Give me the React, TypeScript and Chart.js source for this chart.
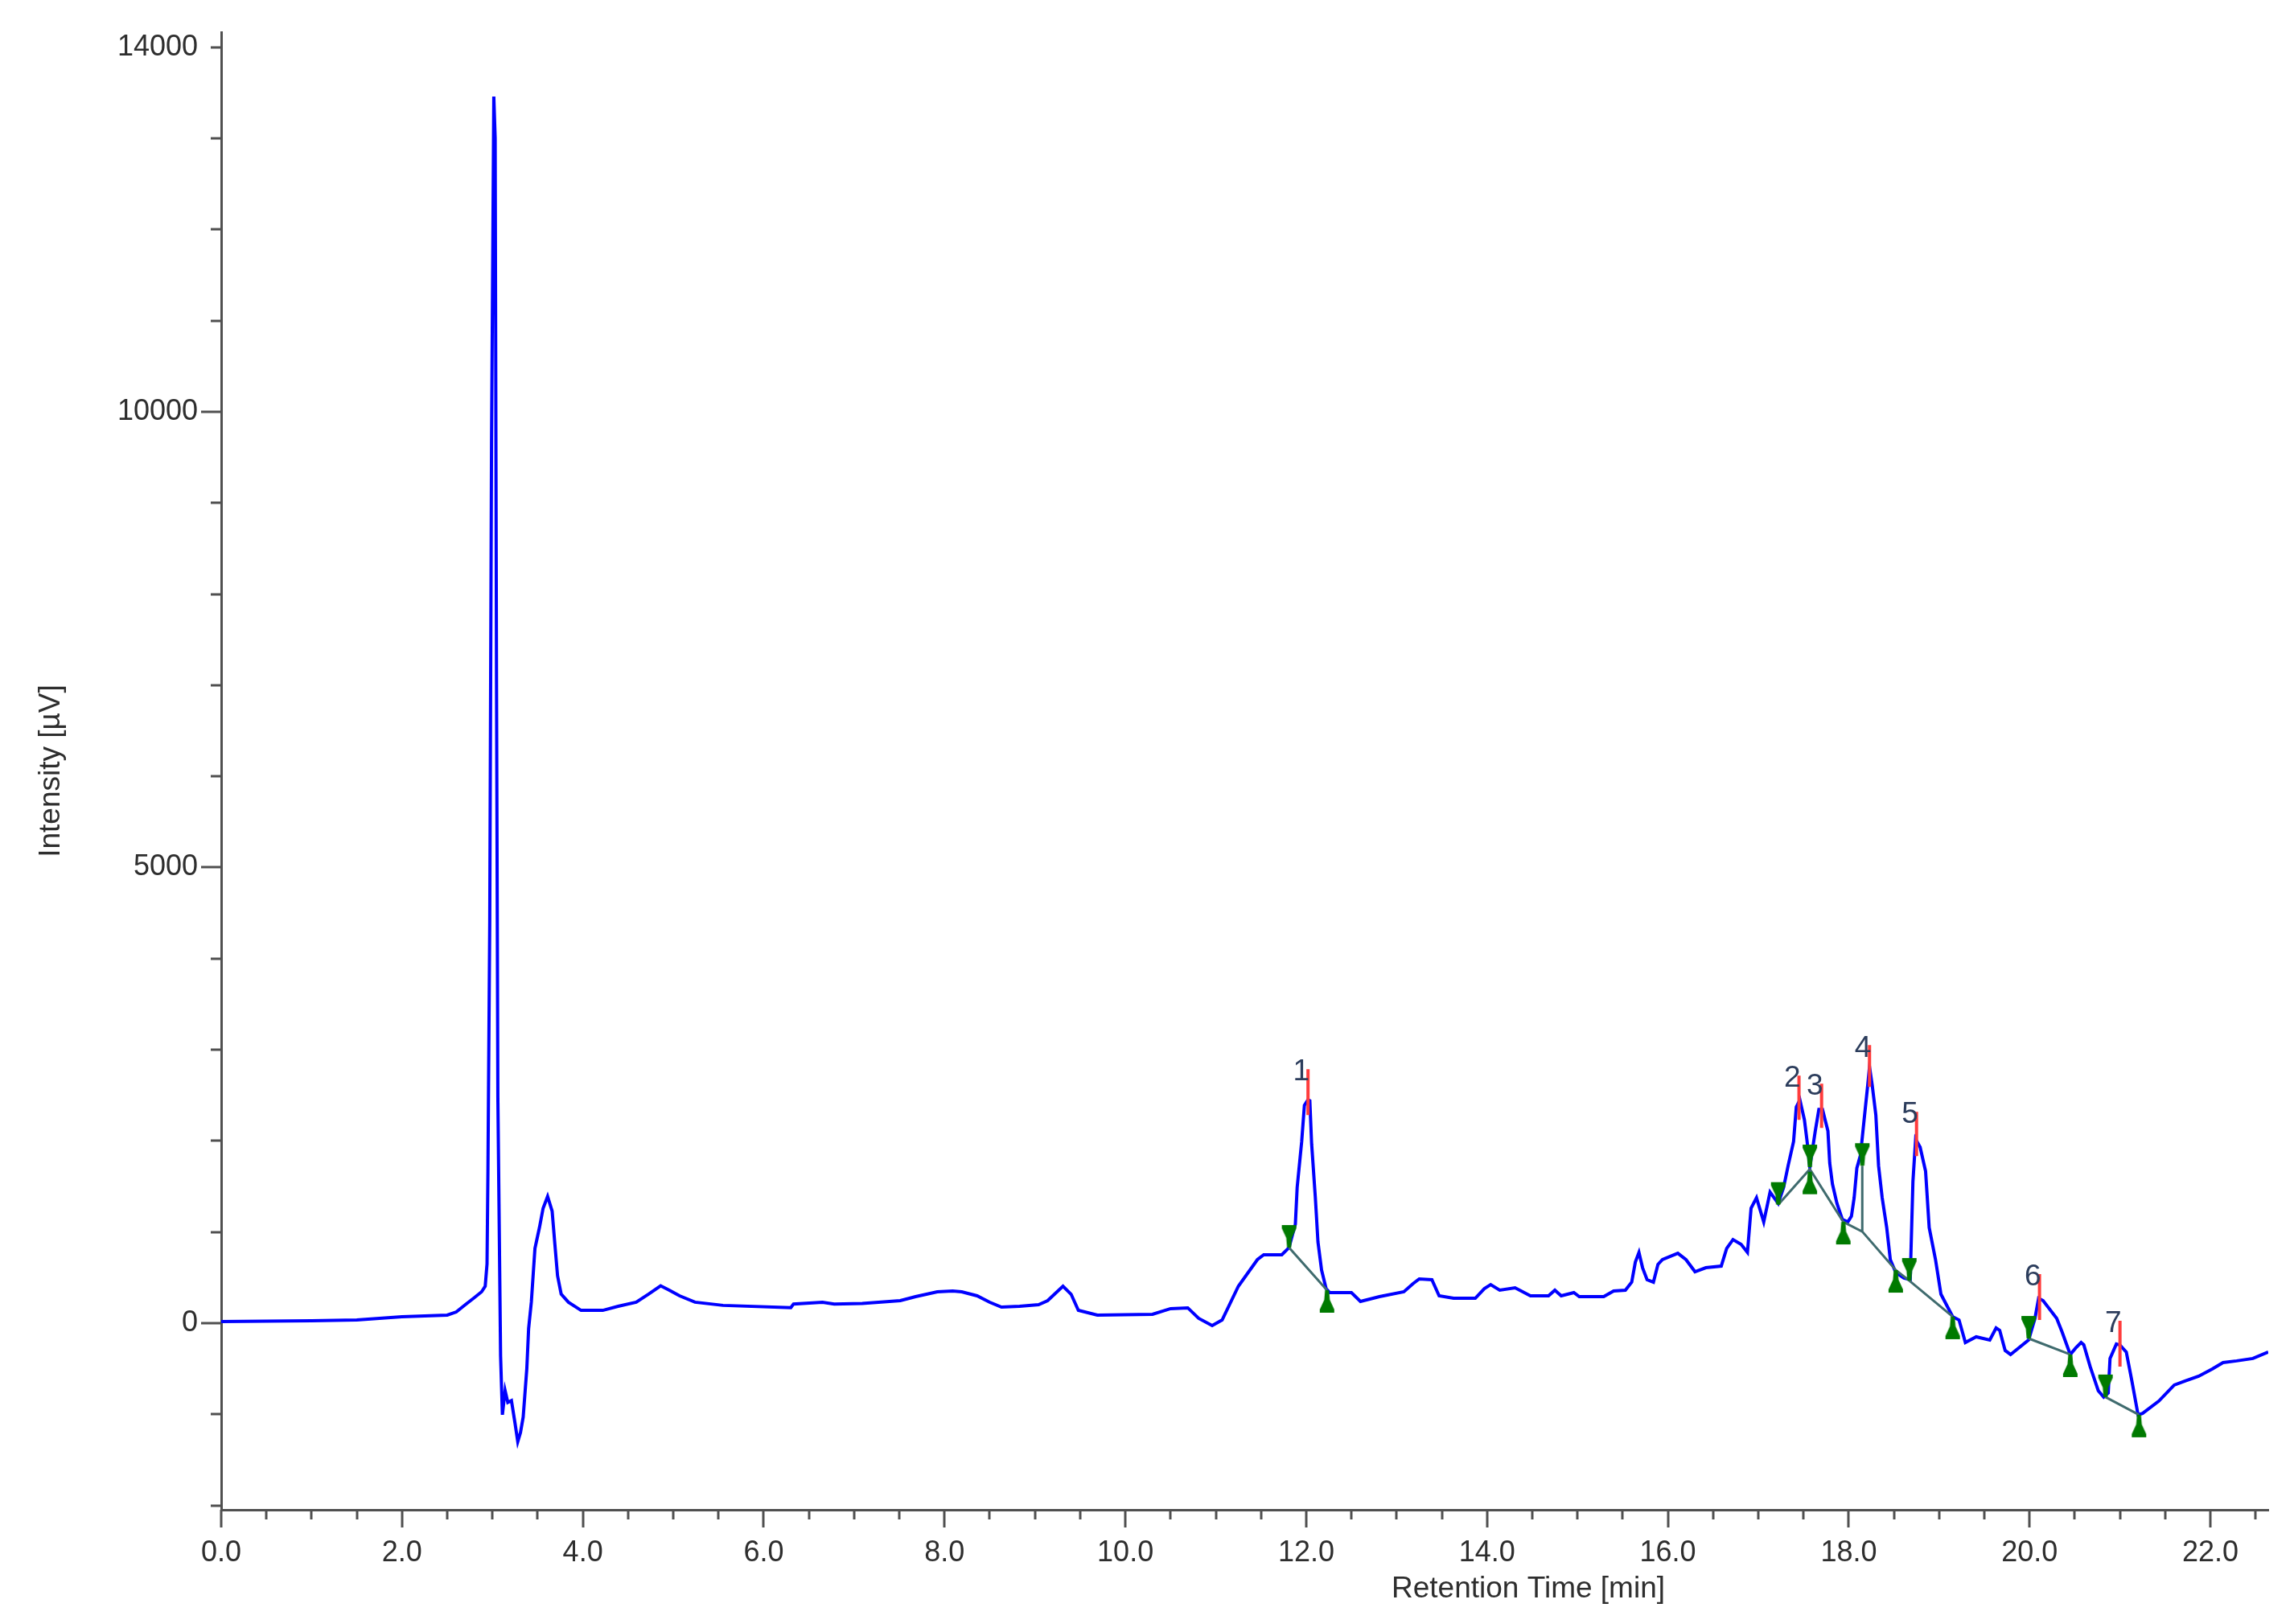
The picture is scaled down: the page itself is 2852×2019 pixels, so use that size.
import { useEffect, useRef } from 'react';
import { Chart, registerables } from 'chart.js';

Chart.register(...registerables);

// ---- chromatogram trace ----
const retentionTime = [
  0.0, 1.0, 1.5, 2.0, 2.5, 2.6, 2.7, 2.8, 2.88, 2.92, 2.94, 2.95, 2.97, 2.99, 3.015, 3.03, 3.045, 3.06, 3.09, 3.11,
  3.14, 3.17, 3.21, 3.25, 3.28, 3.31, 3.34, 3.38, 3.4, 3.43, 3.47, 3.52, 3.56, 3.61, 3.66, 3.69, 3.72, 3.76, 3.84, 3.98,
  4.22, 4.39, 4.59, 4.73, 4.86, 4.96, 5.07, 5.24, 5.55, 6.3, 6.33, 6.65, 6.78, 7.09, 7.51, 7.68, 7.92, 8.09, 8.19, 8.36,
  8.5, 8.63, 8.83, 9.04, 9.14, 9.31, 9.4, 9.48, 9.69, 10.3, 10.5, 10.69, 10.81, 10.96, 11.07, 11.25, 11.46, 11.53, 11.73, 11.81,
  11.88, 11.9, 11.95, 11.98, 12.02, 12.04, 12.06, 12.1, 12.13, 12.17, 12.22, 12.26, 12.5, 12.6, 12.81, 13.08, 13.18, 13.25, 13.39, 13.47,
  13.63, 13.87, 13.97, 14.04, 14.14, 14.31, 14.48, 14.68, 14.75, 14.82, 14.96, 15.02, 15.29, 15.4, 15.53, 15.6, 15.64, 15.68, 15.72, 15.77,
  15.84, 15.89, 15.94, 16.11, 16.2, 16.3, 16.42, 16.59, 16.65, 16.72, 16.81, 16.88, 16.92, 16.98, 17.06, 17.13, 17.22, 17.28, 17.33, 17.39,
  17.42, 17.46, 17.51, 17.54, 17.57, 17.63, 17.67, 17.71, 17.77, 17.79, 17.82, 17.87, 17.93, 17.99, 18.03, 18.06, 18.09, 18.13, 18.17, 18.21,
  18.23, 18.26, 18.3, 18.33, 18.37, 18.42, 18.46, 18.52, 18.61, 18.68, 18.71, 18.74, 18.79, 18.85, 18.89, 18.96, 19.02, 19.15, 19.22, 19.29,
  19.41, 19.56, 19.63, 19.67, 19.73, 19.79, 19.99, 20.06, 20.1, 20.15, 20.3, 20.36, 20.45, 20.51, 20.57, 20.6, 20.67, 20.76, 20.82, 20.87,
  20.89, 20.96, 21.0, 21.07, 21.13, 21.2, 21.25, 21.43, 21.6, 21.72, 21.87, 22.02, 22.14, 22.29, 22.47, 22.64,
];
const intensity = [
  18, 26, 35, 71, 88, 123, 203, 280, 344, 406, 650, 1660, 4390, 9710, 13460, 13000, 7030, 2470, -360, -1005,
  -740, -870, -850, -1100, -1300, -1200, -1030, -500, -60, 230, 820, 1050, 1260, 1390, 1230, 870, 520, 320, 230, 140,
  140, 185, 230, 320, 410, 360, 300, 230, 195, 170, 210, 230, 210, 215, 247, 291, 344, 353, 344, 300,
  229, 176, 185, 203, 247, 406, 317, 141, 88, 97, 159, 168, 53, -26, 35, 406, 697, 750, 750, 829,
  1085, 1490, 1993, 2390, 2451, 2440, 1966, 1393, 891, 582, 379, 335, 335, 238, 291, 344, 432, 485, 476, 300,
  273, 273, 379, 423, 362, 388, 300, 300, 362, 300, 335, 291, 291, 353, 362, 450, 670, 776, 608, 476,
  450, 644, 697, 767, 697, 564, 608, 626, 820, 917, 864, 776, 1261, 1376, 1111, 1437, 1314, 1490, 1728, 1993,
  2372, 2451, 2231, 1993, 1710, 2108, 2346, 2346, 2108, 1755, 1526, 1314, 1138, 1111, 1173, 1376, 1702, 1843, 2231, 2610,
  2813, 2610, 2284, 1728, 1376, 1049, 697, 556, 494, 476, 1552, 2019, 1931, 1667, 1049, 697, 317, 71, 35, -212,
  -150, -185, -53, -79, -300, -344, -185, 53, 273, 247, 53, -97, -344, -273, -212, -238, -476, -741, -811, -767,
  -388, -229, -240, -317, -626, -1005, -990, -855, -679, -635, -582, -503, -432, -414, -388, -317,
];

// ---- integrated peaks ----
const peakNumbers = ['1', '2', '3', '4', '5', '6', '7'];
const peakTimes = [12.02, 17.45, 17.7, 18.23, 18.75, 20.11, 21.0];
const peakMarkTop = [2787, 2716, 2628, 3051, 2319, 538, 26];
const peakMarkBottom = [2284, 2231, 2143, 2593, 1834, 35, -476];

// baseline segments (time, intensity pairs)
const baselineTimes = [
  [11.81, 12.23],
  [17.22, 17.57, 17.94, 18.15, 18.52, 18.67, 19.15],
  [18.15, 18.15],
  [19.99, 20.45],
  [20.84, 21.21],
];
const baselineValues = [
  [829, 362],
  [1300, 1690, 1111, 1005, 582, 467, 71],
  [1005, 1728],
  [-168, -344],
  [-811, -1005],
];

// peak start (▼) and end (▲) markers
const startMarkTimes = [11.81, 17.22, 17.57, 18.15, 18.67, 19.99, 20.84];
const startMarkValues = [829, 1300, 1712, 1728, 467, -168, -811];
const endMarkTimes = [12.23, 17.57, 17.94, 18.52, 19.15, 20.45, 21.21];
const endMarkValues = [362, 1662, 1111, 582, 71, -344, -1005];

// axes
const xLabeledTicks = [0, 2, 4, 6, 8, 10, 12, 14, 16, 18, 20, 22];
const yTickValues = [-2000, -1000, 0, 1000, 2000, 3000, 4000, 5000, 6000, 7000, 8000, 9000, 10000, 11000, 12000, 13000, 14000];
const yLabeledTicks = [0, 5000, 10000, 14000];
const yMajorTicks = [0, 5000, 10000];
const xTitle = 'Retention Time [min]';
const yTitle = 'Intensity [µV]';

const FONT = "'Liberation Sans', Arial, sans-serif";

function near(list: number[], v: number) {
  return list.some((t) => Math.abs(t - v) < 1e-6);
}

function makeTack(up: boolean) {
  const c = document.createElement('canvas');
  c.width = 22;
  c.height = 62;
  const g = c.getContext('2d')!;
  g.translate(11, 31);
  if (up) g.scale(1, -1);
  g.fillStyle = '#007a00';
  g.beginPath();
  g.moveTo(-9, -28);
  g.lineTo(9, -28);
  g.lineTo(9, -24);
  g.lineTo(3.5, -12);
  g.lineTo(2.5, 0);
  g.lineTo(-2.5, 0);
  g.lineTo(-3.5, -12);
  g.lineTo(-9, -24);
  g.closePath();
  g.fill();
  return c;
}

function segmentsToData(ts: number[][], vs: number[][]) {
  const out: { x: number; y: number | null }[] = [];
  ts.forEach((seg, i) => {
    seg.forEach((t, j) => out.push({ x: t, y: vs[i][j] }));
    out.push({ x: seg[seg.length - 1], y: null });
  });
  return out;
}

function noLabelPadding(s: any) {
  s.paddingTop = 0;
  s.paddingBottom = 0;
  s.paddingLeft = 0;
  s.paddingRight = 0;
}

export default function App() {
  const ref = useRef<HTMLCanvasElement>(null);

  useEffect(() => {
    const canvas = ref.current;
    if (!canvas) return;
    const downTack = makeTack(false);
    const upTack = makeTack(true);

    const redData: { x: number; y: number | null }[] = [];
    peakTimes.forEach((t, i) => {
      redData.push({ x: t, y: peakMarkTop[i] });
      redData.push({ x: t, y: peakMarkBottom[i] });
      redData.push({ x: t, y: null });
    });

    const decor = {
      id: 'decor',
      afterDraw(chart: any) {
        const { ctx } = chart;
        const xs = chart.scales.x;
        const ys = chart.scales.y;
        ctx.save();
        ctx.strokeStyle = '#505050';
        ctx.lineWidth = 3;
        ctx.beginPath();
        for (const t of xs.ticks) {
          const px = Math.round(xs.getPixelForValue(t.value));
          const len = near(xLabeledTicks, t.value) ? 22 : 12;
          ctx.moveTo(px, xs.top);
          ctx.lineTo(px, xs.top + len);
        }
        for (const t of ys.ticks) {
          const py = Math.round(ys.getPixelForValue(t.value));
          const len = near(yMajorTicks, t.value) ? 25 : 13;
          ctx.moveTo(ys.right, py);
          ctx.lineTo(ys.right - len, py);
        }
        ctx.stroke();

        // peak numbers
        ctx.fillStyle = '#2c3d5c';
        ctx.font = `37px ${FONT}`;
        ctx.textAlign = 'right';
        ctx.textBaseline = 'middle';
        peakNumbers.forEach((lab, i) => {
          const px = xs.getPixelForValue(peakTimes[i]);
          const py = ys.getPixelForValue(peakMarkTop[i]);
          ctx.fillText(lab, px + 2, py + 4);
        });

        // x-axis title
        ctx.fillStyle = '#2e2e2e';
        ctx.textAlign = 'center';
        ctx.textBaseline = 'middle';
        ctx.font = `37px ${FONT}`;
        ctx.fillText(xTitle, 1900, 1976);
        ctx.restore();
      },
    };

    const chart = new Chart(canvas, {
      type: 'scatter',
      data: {
        datasets: [
          {
            label: 'start',
            data: startMarkTimes.map((t, i) => ({ x: t, y: startMarkValues[i] })),
            pointStyle: downTack as any,
            pointRadius: 10,
            showLine: false,
          },
          {
            label: 'end',
            data: endMarkTimes.map((t, i) => ({ x: t, y: endMarkValues[i] })),
            pointStyle: upTack as any,
            pointRadius: 10,
            showLine: false,
          },
          {
            label: 'apex',
            data: redData as any,
            showLine: true,
            borderColor: '#ff3c3c',
            borderWidth: 4,
            pointRadius: 0,
            spanGaps: false,
          },
          {
            label: 'baseline',
            data: segmentsToData(baselineTimes, baselineValues) as any,
            showLine: true,
            borderColor: '#3f6b6e',
            borderWidth: 3,
            pointRadius: 0,
            spanGaps: false,
          },
          {
            label: 'signal',
            data: retentionTime.map((t, i) => ({ x: t, y: intensity[i] })),
            showLine: true,
            borderColor: '#0000ff',
            borderWidth: 4,
            pointRadius: 0,
            tension: 0,
          },
        ],
      },
      options: {
        responsive: false,
        animation: false,
        devicePixelRatio: 1,
        layout: { padding: { top: 40, right: 32, bottom: 0, left: 0 } },
        plugins: { legend: { display: false }, tooltip: { enabled: false }, title: { display: false } },
        events: [],
        scales: {
          x: {
            type: 'linear',
            min: 0,
            max: 22.64,
            afterFit: (s: any) => {
              s.height = 142;
              noLabelPadding(s);
            },
            grid: { display: false, drawTicks: false },
            border: { display: true, color: '#505050', width: 3 },
            ticks: {
              stepSize: 0.5,
              autoSkip: false,
              includeBounds: false,
              maxRotation: 0,
              padding: 32,
              color: '#2e2e2e',
              font: { family: FONT, size: 36 },
              callback: (v: any) => (near(xLabeledTicks, Number(v)) ? Number(v).toFixed(1) : ''),
            },
          },
          y: {
            type: 'linear',
            min: -2048,
            max: 14166,
            afterFit: (s: any) => {
              s.width = 275;
              noLabelPadding(s);
            },
            afterBuildTicks: (s: any) => {
              s.ticks = yTickValues.map((v) => ({ value: v }));
            },
            grid: { display: false, drawTicks: false },
            border: { display: true, color: '#505050', width: 3 },
            title: {
              display: true,
              text: yTitle,
              color: '#2e2e2e',
              font: { family: FONT, size: 37 },
              padding: { top: 42, bottom: 0 },
            },
            ticks: {
              autoSkip: false,
              padding: 29,
              color: '#2e2e2e',
              font: { family: FONT, size: 36 },
              callback: (v: any) => (near(yLabeledTicks, Number(v)) ? String(Math.round(Number(v))) : ''),
            },
          },
        },
      },
      plugins: [decor],
    });
    return () => chart.destroy();
  }, []);

  return (
    <div style={{ position: 'fixed', left: 0, top: 0, width: 2852, height: 2019, background: '#ffffff' }}>
      <canvas ref={ref} width={2852} height={2019} style={{ display: 'block', width: 2852, height: 2019 }} />
    </div>
  );
}
